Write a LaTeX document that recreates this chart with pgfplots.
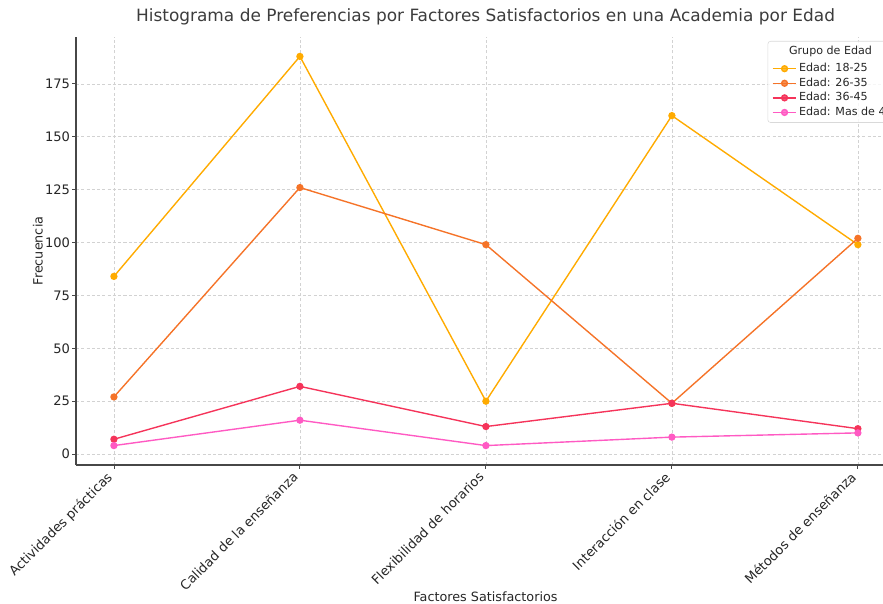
\documentclass[border=0pt]{standalone}
\usepackage{pgfplots}
\pgfplotsset{compat=1.18}
\usepackage{fontspec}
\setmainfont{DejaVu Sans}

\definecolor{edadA}{HTML}{FFAB00}
\definecolor{edadB}{HTML}{F57328}
\definecolor{edadC}{HTML}{F5345A}
\definecolor{edadD}{HTML}{FF5AC3}
\definecolor{txt}{HTML}{262626}

\begin{document}
\begin{tikzpicture}
  \begin{axis}[
    scale only axis,
    width=589.7pt, height=308.2pt,
    xmin=-0.204, xmax=4.2,
    ymin=-5.2, ymax=197.2,
    axis x line*=bottom, axis y line*=left,
    axis line style={draw=txt!85, line width=0.8pt},
    tick align=outside,
    major tick length=2.6pt,
    tick style={draw=txt!85, line width=0.6pt},
    xtick={0,1,2,3,4},
    xticklabels={Actividades prácticas,Calidad de la enseñanza,Flexibilidad de horarios,Interacción en clase,Métodos de enseñanza},
    ytick={0,25,50,75,100,125,150,175},
    ticklabel style={font=\fontsize{9.4}{11}\selectfont, text=txt},
    yticklabel style={inner sep=1.5pt},
    /pgf/number format/assume math mode=true,
    xticklabel style={xshift=-6pt, rotate=45, anchor=north east, inner sep=1pt},
    grid=major,
    grid style={dash pattern=on 2.2pt off 1.6pt, draw=gray!35, line width=0.5pt},
    title={Histograma de Preferencias por Factores Satisfactorios en una Academia por Edad},
    title style={at={(rel axis cs:0.5,1)}, anchor=center, yshift=8.6pt,
      font=\fontsize{12.2}{14}\selectfont, text=txt!90},
    xlabel={Factores Satisfactorios},
    ylabel={Frecuencia},
    every axis x label/.style={at={(rel axis cs:0.5,0)}, yshift=-95pt, anchor=center,
      font=\fontsize{9.2}{11}\selectfont, text=txt},
    every axis y label/.style={at={(rel axis cs:0,0.5)}, xshift=-27.4pt, rotate=90, anchor=center,
      font=\fontsize{9.2}{11}\selectfont, text=txt},
    legend style={
      at={(rel axis cs:1,1)}, anchor=north east, xshift=2.9pt, yshift=-2.9pt,
      draw=gray!30, rounded corners=2pt, fill=white, fill opacity=0.8, text opacity=1,
      font=\fontsize{8.0}{10}\selectfont, text=txt,
      nodes={inner sep=1.4pt, text height=6.0pt, text depth=1.7pt},
    },
    legend cell align=left,
    every axis plot/.append style={line width=1pt, mark=*, mark size=2.1pt},
  ]

  \coordinate (sw) at (rel axis cs:0,0);

  \addlegendimage{empty legend}
  \addlegendentry[text depth=3.7pt]{\hspace{-7.2pt}Grupo de Edad}

  % 18-25
  \addplot [edadA, mark options={fill=edadA}]
    coordinates {(0,84) (1,188) (2,25) (3,160) (4,99)};
  \addlegendentry{Edad: 18-25}

  % 26-35
  \addplot [edadB, mark options={fill=edadB}]
    coordinates {(0,27) (1,126) (2,99) (3,24) (4,102)};
  \addlegendentry{Edad: 26-35}

  % 36-45
  \addplot [edadC, mark options={fill=edadC}]
    coordinates {(0,7) (1,32) (2,13) (3,24) (4,12)};
  \addlegendentry{Edad: 36-45}

  % mas de 45
  \addplot [edadD, mark options={fill=edadD}]
    coordinates {(0,4) (1,16) (2,4) (3,8) (4,10)};
  \addlegendentry{Edad: Mas de 45}

  \end{axis}
  % the reference is cut at the right edge
  \pgfresetboundingbox
  \path[use as bounding box] ([xshift=-54.7pt,yshift=-99.4pt]sw) rectangle ([xshift=581pt,yshift=334.8pt]sw);
\end{tikzpicture}
\end{document}
